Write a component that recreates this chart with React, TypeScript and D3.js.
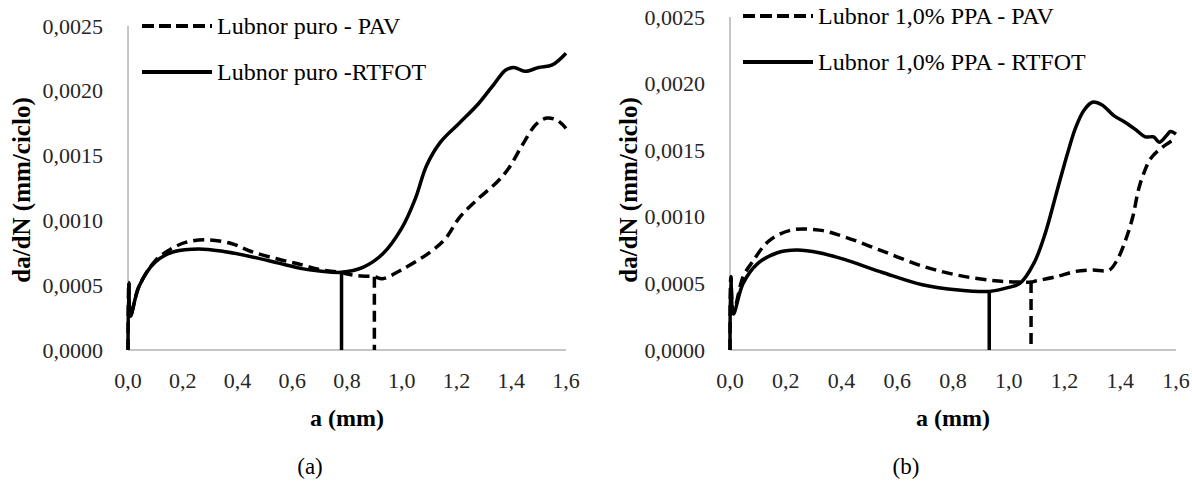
import React from "react";
import * as d3 from "d3";

type Pt = [number, number];

// (a) Lubnor puro
const puroPav: Pt[] = [
  [0, 0], [0.003, 0.00052], [0.009, 0.00027], [0.04, 0.00049], [0.1, 0.00069],
  [0.15, 0.00077], [0.21, 0.00083], [0.29, 0.00085], [0.38, 0.00082], [0.45, 0.00076],
  [0.55, 0.0007], [0.63, 0.00066], [0.7, 0.00062], [0.77, 0.0006], [0.83, 0.000575],
  [0.9, 0.000565], [0.93, 0.00055], [1.0, 0.00062], [1.1, 0.00075], [1.16, 0.00086],
  [1.21, 0.00102], [1.27, 0.00115], [1.35, 0.0013], [1.39, 0.0014], [1.44, 0.00158],
  [1.49, 0.00174], [1.53, 0.00179], [1.57, 0.00177], [1.6, 0.00171],
];
const puroRtfot: Pt[] = [
  [0, 0], [0.003, 0.00052], [0.009, 0.00026], [0.04, 0.00049], [0.1, 0.00068],
  [0.17, 0.00076], [0.26, 0.00078], [0.35, 0.00076], [0.45, 0.00072], [0.55, 0.00067],
  [0.63, 0.00063], [0.7, 0.00061], [0.78, 0.0006], [0.86, 0.00064], [0.93, 0.00074],
  [1.0, 0.00094], [1.05, 0.00117], [1.09, 0.00142], [1.14, 0.0016], [1.21, 0.00175],
  [1.28, 0.0019], [1.34, 0.00206], [1.38, 0.00216], [1.41, 0.00218], [1.45, 0.00215],
  [1.5, 0.00218], [1.55, 0.0022], [1.6, 0.00229],
];
// crack length where each test ends: [a, da/dN at the drop]
const puroPavDrop: Pt = [0.9, 0.000565];
const puroRtfotDrop: Pt = [0.78, 0.0006];

// (b) Lubnor 1,0% PPA
const ppaPav: Pt[] = [
  [0, 0], [0.003, 0.00055], [0.012, 0.00028], [0.047, 0.00055], [0.08, 0.00066],
  [0.14, 0.00082], [0.22, 0.0009], [0.32, 0.0009], [0.41, 0.00085], [0.55, 0.00074],
  [0.69, 0.00063], [0.82, 0.00056], [0.95, 0.00052], [1.04, 0.00051], [1.08, 0.00051],
  [1.1, 0.00052], [1.17, 0.00055], [1.24, 0.00059], [1.3, 0.0006], [1.36, 0.0006],
  [1.39, 0.00068], [1.42, 0.00083], [1.445, 0.001], [1.465, 0.0012], [1.485, 0.00133],
  [1.51, 0.00144], [1.55, 0.00152], [1.6, 0.00159],
];
const ppaRtfot: Pt[] = [
  [0, 0], [0.003, 0.00055], [0.012, 0.00027], [0.047, 0.0005], [0.1, 0.00065],
  [0.17, 0.00073], [0.24, 0.00075], [0.32, 0.00073], [0.41, 0.00068], [0.55, 0.00058],
  [0.69, 0.00049], [0.82, 0.00045], [0.93, 0.00044], [1.0, 0.00047], [1.04, 0.0005],
  [1.09, 0.00065], [1.13, 0.00087], [1.17, 0.00117], [1.21, 0.00147], [1.24, 0.00167],
  [1.27, 0.0018], [1.3, 0.00186], [1.335, 0.00184], [1.377, 0.00176], [1.417, 0.00171],
  [1.458, 0.00165], [1.49, 0.0016], [1.52, 0.0016], [1.54, 0.00156], [1.566, 0.00161],
  [1.58, 0.00164], [1.6, 0.00162],
];
const ppaPavDrop: Pt = [1.08, 0.00051];
const ppaRtfotDrop: Pt = [0.93, 0.00044];

const xTicks = [0, 0.2, 0.4, 0.6, 0.8, 1.0, 1.2, 1.4, 1.6];
const yTicks = [0, 0.0005, 0.001, 0.0015, 0.002, 0.0025];

const legendPuro = ["Lubnor puro - PAV", "Lubnor puro -RTFOT"];
const legendPpa = ["Lubnor 1,0% PPA - PAV", "Lubnor 1,0% PPA - RTFOT"];

const FONT = "'Liberation Serif', 'Times New Roman', serif";
const DASH = "11 6";
const fmtY = (v: number) => d3.format(".4f")(v).replace(".", ",");
const fmtX = (v: number) => d3.format(".1f")(v).replace(".", ",");

type PanelProps = {
  left: number; right: number; top: number; bottom: number;
  dashed: Pt[]; solid: Pt[]; dashedDrop: Pt; solidDrop: Pt;
  legend: string[]; legendX: number; legendY: [number, number];
  yTitleX: number; caption: string; captionX: number;
};

function Panel(p: PanelProps) {
  const x = d3.scaleLinear().domain([0, 1.6]).range([p.left, p.right]);
  const y = d3.scaleLinear().domain([0, 0.0025]).range([p.bottom, p.top]);
  const line = d3
    .line<Pt>()
    .x((d) => x(d[0]))
    .y((d) => y(d[1]))
    .curve(d3.curveCatmullRom.alpha(0.5));
  const cx = (p.left + p.right) / 2;
  const stroke = "#000";
  return (
    <g>
      {/* axes */}
      <line x1={p.left} x2={p.left} y1={p.top} y2={p.bottom} stroke="#8c8c8c" strokeWidth={1} />
      <line x1={p.left} x2={p.right} y1={p.bottom} y2={p.bottom} stroke="#8c8c8c" strokeWidth={1} />
      {yTicks.map((t) => (
        <text key={t} x={p.left - 25} y={y(t)} textAnchor="end" dominantBaseline="central"
          fontFamily={FONT} fontSize={22} fill="#262626">{fmtY(t)}</text>
      ))}
      {xTicks.map((t) => (
        <text key={t} x={x(t)} y={p.bottom + 30} textAnchor="middle" dominantBaseline="central"
          fontFamily={FONT} fontSize={22} fill="#262626">{fmtX(t)}</text>
      ))}
      <text x={cx} y={418} textAnchor="middle" dominantBaseline="central" fontFamily={FONT}
        fontSize={24} fontWeight="bold" fill="#000">a (mm)</text>
      <text transform={`translate(${p.yTitleX},190) rotate(-90)`} textAnchor="middle"
        dominantBaseline="central" fontFamily={FONT} fontSize={25} fontWeight="bold" fill="#000">
        da/dN (mm/ciclo)
      </text>
      <text x={p.captionX} y={466} textAnchor="middle" dominantBaseline="central" fontFamily={FONT}
        fontSize={23} fill="#000">{p.caption}</text>

      {/* series */}
      <path d={line(p.dashed) ?? ""} fill="none" stroke={stroke} strokeWidth={3.5} strokeDasharray={DASH} />
      <line x1={x(p.dashedDrop[0])} x2={x(p.dashedDrop[0])} y1={y(p.dashedDrop[1])} y2={y(0)}
        stroke={stroke} strokeWidth={3.5} strokeDasharray={DASH} />
      <path d={line(p.solid) ?? ""} fill="none" stroke={stroke} strokeWidth={3.5} />
      <line x1={x(p.solidDrop[0])} x2={x(p.solidDrop[0])} y1={y(p.solidDrop[1])} y2={y(0)}
        stroke={stroke} strokeWidth={3.5} />

      {/* legend */}
      <line x1={p.legendX} x2={p.legendX + 70} y1={p.legendY[0]} y2={p.legendY[0]} stroke={stroke}
        strokeWidth={4} strokeDasharray="12 5" />
      <line x1={p.legendX} x2={p.legendX + 70} y1={p.legendY[1]} y2={p.legendY[1]} stroke={stroke}
        strokeWidth={4} />
      {p.legend.map((s, i) => (
        <text key={s} x={p.legendX + 75} y={p.legendY[i]} dominantBaseline="central" fontFamily={FONT}
          fontSize={24} fill="#000">{s}</text>
      ))}
    </g>
  );
}

export default function App() {
  return (
    <svg width={1192} height={493} style={{ position: "absolute", left: 0, top: 0, background: "#fff" }}>
      <rect width={1192} height={493} fill="#fff" />
      <Panel left={128} right={566} top={26} bottom={350}
        dashed={puroPav} solid={puroRtfot} dashedDrop={puroPavDrop} solidDrop={puroRtfotDrop}
        legend={legendPuro} legendX={142} legendY={[26, 72]} yTitleX={21} caption="(a)" captionX={310} />
      <Panel left={730} right={1176} top={17} bottom={350}
        dashed={ppaPav} solid={ppaRtfot} dashedDrop={ppaPavDrop} solidDrop={ppaRtfotDrop}
        legend={legendPpa} legendX={743} legendY={[16, 62]} yTitleX={628} caption="(b)" captionX={906} />
    </svg>
  );
}
